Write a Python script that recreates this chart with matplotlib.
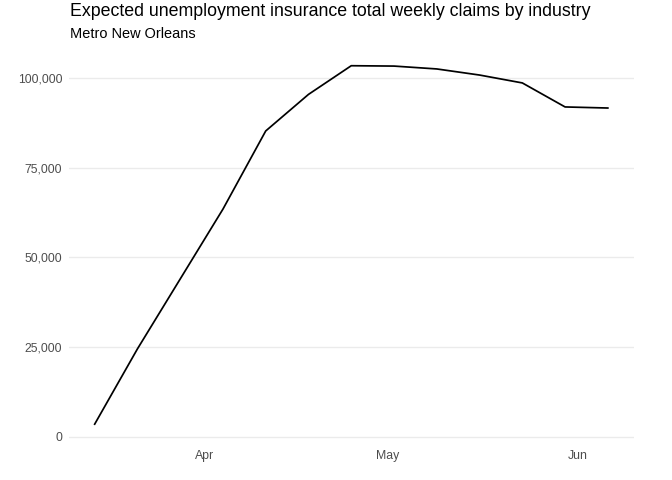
import matplotlib
matplotlib.use("Agg")
import matplotlib.pyplot as plt
import matplotlib.dates as mdates
import matplotlib.ticker as mticker
import numpy as np
import pandas as pd

# Data
weeks = ["2020-03-14", "2020-03-21", "2020-03-28", "2020-04-04", "2020-04-11",
         "2020-04-18", "2020-04-25", "2020-05-02", "2020-05-09", "2020-05-16",
         "2020-05-23", "2020-05-30", "2020-06-06"]
claims = [3500, 24500, 44000, 63500, 85300, 95500, 103500, 103400, 102600,
          100900, 98700, 92000, 91700]
y_ticks = [0, 25000, 50000, 75000, 100000]
x_tick_dates = ["2020-04-01", "2020-05-01", "2020-06-01"]
x_tick_labels = ["Apr", "May", "Jun"]
title = "Expected unemployment insurance total weekly claims by industry"
subtitle = "Metro New Orleans"

plt.rcParams['font.family'] = ['Liberation Sans', 'DejaVu Sans']

dates = pd.to_datetime(weeks)
W, H = 672, 480
fig = plt.figure(figsize=(W / 96, H / 96), dpi=96)
left, right, top, bottom = 69, 633.5, 47.8, 442.1
ax = fig.add_axes([left / W, 1 - bottom / H, (right - left) / W, (bottom - top) / H])

ax.plot(dates, claims, color="black", linewidth=1.3, solid_joinstyle="round")

# ggplot-style expansion
dmin, dmax = dates.min(), dates.max()
span = dmax - dmin
ax.set_xlim(dmin - span * 0.05, dmax + span * 0.05)
ymin, ymax = min(claims), max(claims)
yr = ymax - ymin
ax.set_ylim(ymin - yr * 0.05, ymax + yr * 0.05)

ax.set_yticks(y_ticks)
ax.yaxis.set_major_formatter(mticker.FuncFormatter(lambda v, p: f"{int(v):,}"))
ax.set_xticks(pd.to_datetime(x_tick_dates))
ax.set_xticklabels(x_tick_labels)

for s in ax.spines.values():
    s.set_visible(False)
ax.tick_params(axis="both", length=0, labelsize=9.2, labelcolor="#4D4D4D")
ax.tick_params(axis="x", pad=6)
ax.tick_params(axis="y", pad=5)
ax.grid(axis="y", color="#EBEBEB", linewidth=1.0)
ax.grid(axis="x", visible=False)
ax.set_axisbelow(True)

fig.text(70 / W, 1 - 2.5 / H, title, fontsize=13.3, color="black", va="top", ha="left")
fig.text(70 / W, 1 - 26.5 / H, subtitle, fontsize=10.9, color="black", va="top", ha="left")

fig.savefig("out.png", dpi=96)
